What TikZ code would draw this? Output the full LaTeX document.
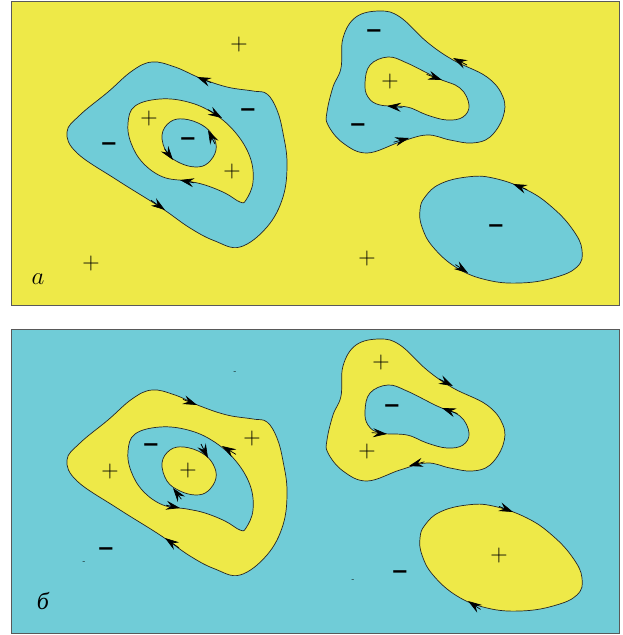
\documentclass[tikz,border=0pt]{standalone}
\usepackage{fontspec}
\newfontfamily\djsans{DejaVu Sans}
\newfontfamily\libserif{Liberation Serif}
\usetikzlibrary{arrows.meta,calc}
\definecolor{yel}{RGB}{238,233,72}
\definecolor{cya}{RGB}{112,204,215}
\begin{document}
\begin{tikzpicture}[x=1pt,y=-1pt,
  curve/.style={draw=black!85, line width=0.7pt},
  tipline/.style={draw=black, line width=0.7pt, -{Stealth[length=14pt,width=9pt,inset=5pt]}},
  frame/.style={draw=black!65, line width=1pt},
  plus/.style={font=\fontsize{24}{24}\selectfont, inner sep=0pt},
  minus/.style={font=\djsans\bfseries\fontsize{21}{21}\selectfont, inner sep=0pt},
  tiny/.style={font=\fontsize{8}{8}\selectfont, inner sep=0pt},
  lab/.style={font=\fontsize{24}{24}\selectfont, inner sep=0pt}]
\useasboundingbox (0,0) rectangle (622,635);
\fill[white] (0,0) rectangle (622,635);
\foreach \yo/\ca/\cb/\dir in {0/yel/cya/1.4, 328/cya/yel/-1.4}{
\begin{scope}[shift={(0,\yo)}]
  \fill[\ca] (11,1) rectangle (619,305.5);
  % big blob
  \filldraw[fill=\cb, curve] plot[smooth cycle, tension=0.65] coordinates {
    (67,132) (80,115) (108,92) (132,71) (152,62) (175,67) (200,78) (227,87)
    (253,91) (267,94) (277,110) (283,133) (287,163) (283,197) (267,227) (240,247)
    (215,241) (190,228) (160,207) (117,180) (77,153)};
  \filldraw[fill=\ca, curve] plot[smooth cycle, tension=0.65] coordinates {
    (128,123) (135,106) (160,99) (188,102) (213,113) (235,132) (250,157)
    (253,182) (246,200) (240,202) (225,193) (205,185) (187,181) (163,177)
    (143,163) (131,143)};
  \filldraw[fill=\cb, curve] plot[smooth cycle, tension=0.65] coordinates {
    (162,135) (170,122) (184,119) (202,125) (213,136) (216,150) (208,163)
    (196,167) (180,163) (167,153)};
  % upper right blob
  \filldraw[fill=\cb, curve] plot[smooth cycle, tension=0.65] coordinates {
    (327,112) (333,87) (341,68) (343,38) (356,17) (380,11) (400,17) (427,42)
    (453,60) (487,77) (503,97) (503,117) (490,137) (472,143) (450,140)
    (427,135) (400,142) (367,153) (343,143) (328,125)};
  \filldraw[fill=\ca, curve] plot[smooth cycle, tension=0.65] coordinates {
    (365,83) (370,65) (388,57) (407,63) (437,78) (460,88) (469,105) (463,117)
    (447,120) (427,115) (407,107) (380,105) (368,97)};
  % ellipse
  \filldraw[fill=\cb, curve] plot[smooth cycle, tension=0.7] coordinates {
    (420,210) (425,197) (440,184) (467,177) (493,178) (527,190) (553,208)
    (573,230) (582,250) (577,267) (553,278) (520,283) (487,280) (457,268)
    (433,247) (422,227)};
  % arrows
  \draw[tipline] ($(197,77)!\dir!(207,81)$) -- (197,77);
  \draw[tipline] ($(165,210)!\dir!(155,203)$) -- (165,210);
  \draw[tipline] ($(222,118)!\dir!(212,112)$) -- (222,118);
  \draw[tipline] ($(180,180)!\dir!(190,182)$) -- (180,180);
  \draw[tipline] ($(208,130)!\dir!(213,140)$) -- (208,130);
  \draw[tipline] ($(173,160)!\dir!(167,152)$) -- (173,160);
  \draw[tipline] ($(453,58)!\dir!(463,63)$) -- (453,58);
  \draw[tipline] ($(409,138)!\dir!(398,141)$) -- (409,138);
  \draw[tipline] ($(442,80)!\dir!(431,76)$) -- (442,80);
  \draw[tipline] ($(387,106)!\dir!(398,107)$) -- (387,106);
  \draw[tipline] ($(513,184)!\dir!(523,188)$) -- (513,184);
  \draw[tipline] ($(468,273)!\dir!(459,267)$) -- (468,273);
  \draw[frame] (11,1) rectangle (619,305.5);
\end{scope}
}
% labels, panel a
\node[plus]  (a1) at (239,45)  {+};
\node[minus] (a2) at (248,113) {−};
\node[plus]  (a3) at (149,119) {+};
\node[minus] (a4) at (188,142) {−};
\node[minus] (a5) at (109,147) {−};
\node[plus]  (a6) at (232,172) {+};
\node[plus]  (a7) at (91,264)  {+};
\node[minus] (a8) at (374,34)  {−};
\node[plus]  (a9) at (390,82)  {+};
\node[minus] (a10) at (358,128) {−};
\node[minus] (a11) at (496,229) {−};
\node[plus]  (a12) at (367,259) {+};
\node[lab]   (la) at (38,279) {$a$};
% labels, panel b
\node[tiny]  (b0) at (235,373) {-};
\node[plus]  (b1) at (252,439) {+};
\node[minus] (b2) at (151,448) {−};
\node[plus]  (b3) at (110,472) {+};
\node[plus]  (b4) at (188,471) {+};
\node[minus] (b5) at (106,552) {−};
\node[tiny]  (b6) at (84,563)  {-};
\node[plus]  (b7) at (381,363) {+};
\node[minus] (b8) at (392,409) {−};
\node[plus]  (b9) at (367,452) {+};
\node[plus]  (b10) at (499,556) {+};
\node[minus] (b11) at (400,575) {−};
\node[tiny]  (b12) at (353,581) {-};
\node[lab]   (lb) at (43,601) {\libserif\itshape б};
\end{tikzpicture}
\end{document}
